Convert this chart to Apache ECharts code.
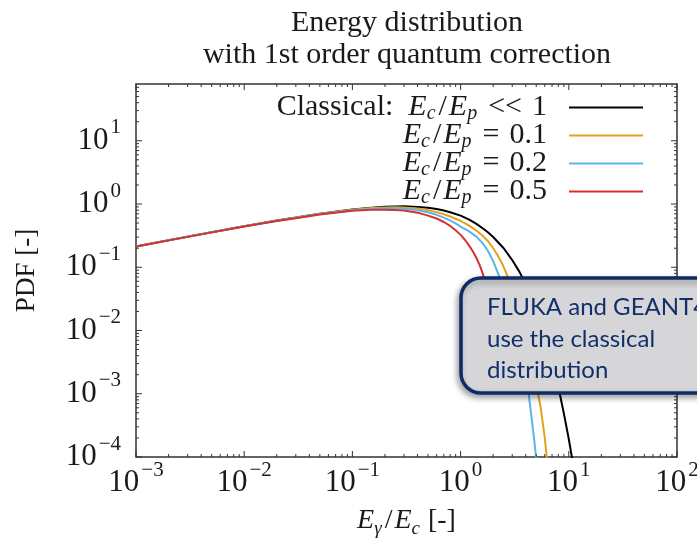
<!DOCTYPE html>
<html><head><meta charset="utf-8">
<script src="https://cdn.jsdelivr.net/npm/echarts@6/dist/echarts.min.js"></script>
<style>html,body{margin:0;padding:0;background:#fff}#c{width:697px;height:541px}</style>
</head><body><div id="c"></div>
<script>
// ---- tick labels (exponents of 10) ----
const xTickExps = [-3, -2, -1, 0, 1, 2];
const yTickExps = [-4, -3, -2, -1, 0, 1];
const X_MIN = 1e-3, X_MAX = 1e2, Y_MIN = 1e-4, Y_MAX = 79;

// ---- series names ----
const seriesNames = ['classical', 'q01', 'q02', 'q05'];
const legendTexts = [
  '{r|Classical:  }{i|E}{s|c}{o|/}{i|E}{s|p}{q|<<}{z|1}',
  '{i|E}{s|c}{o|/}{i|E}{s|p}{q|=}{z|0.1}',
  '{i|E}{s|c}{o|/}{i|E}{s|p}{q|=}{z|0.2}',
  '{i|E}{s|c}{o|/}{i|E}{s|p}{q|=}{z|0.5}'
];
const seriesColors = ['#000000', '#e5a11d', '#5bb5e6', '#d63131'];

// ---- data ----
const xClassical = [0.001,0.002,0.005,0.01,0.02,0.03,0.05,0.1,0.15,0.2,0.25,0.3,0.4,0.5,0.6,0.7,0.8,0.9,1,1.2,1.4,1.6,1.8,2,2.5,3,3.5,4,4.5,5,6,7,8,9,10,11];
const yClassical = [0.213,0.267,0.358,0.445,0.547,0.61,0.702,0.818,0.874,0.904,0.917,0.918,0.901,0.872,0.832,0.788,0.742,0.694,0.655,0.566,0.486,0.414,0.354,0.301,0.2,0.13,0.0845,0.0541,0.0339,0.0214,0.0085,0.0033,0.00129,0.00049,0.000192,0.000074];

const xQ01 = [0.001,0.002,0.005,0.01,0.02,0.03,0.05,0.1,0.15,0.2,0.25,0.3,0.4,0.5,0.6,0.7,0.8,0.9,1,1.2,1.4,1.6,1.8,2,2.2,2.4,2.6,2.8,3,3.5,4,4.5,5,5.5,6,6.25,6.5];
const yQ01 = [0.213,0.267,0.358,0.445,0.546,0.608,0.698,0.81,0.862,0.88,0.885,0.88,0.85,0.80,0.745,0.69,0.635,0.585,0.54,0.455,0.38,0.315,0.255,0.2,0.155,0.118,0.087,0.062,0.044,0.019,0.0079,0.0032,0.0014,0.0006,0.0002,0.0001,0.00003];

const xQ02 = [0.001,0.002,0.005,0.01,0.02,0.03,0.05,0.1,0.15,0.2,0.25,0.3,0.4,0.5,0.6,0.7,0.8,0.9,1,1.2,1.4,1.6,1.8,2,2.2,2.4,2.6,3,3.5,4,4.25,4.5,4.8,4.98,5.0];
const yQ02 = [0.213,0.267,0.357,0.444,0.545,0.606,0.695,0.80,0.845,0.86,0.86,0.85,0.80,0.74,0.675,0.61,0.55,0.495,0.44,0.37,0.305,0.24,0.178,0.125,0.083,0.055,0.037,0.016,0.0053,0.0018,0.00102,0.00046,0.00018,0.0001,0.000001];

const xQ05 = [0.001,0.002,0.005,0.01,0.02,0.03,0.05,0.1,0.15,0.2,0.25,0.3,0.4,0.5,0.6,0.7,0.8,0.9,1,1.1,1.2,1.3,1.4,1.5,1.6,1.7,1.8,1.9,1.97];
const yQ05 = [0.213,0.266,0.356,0.442,0.54,0.598,0.685,0.78,0.81,0.815,0.805,0.79,0.73,0.655,0.59,0.52,0.45,0.385,0.325,0.27,0.22,0.178,0.14,0.108,0.08,0.056,0.035,0.017,0.004];

const allX = [xClassical, xQ01, xQ02, xQ05];
const allY = [yClassical, yQ01, yQ02, yQ05];

const SERIF = "'Liberation Serif', 'DejaVu Serif', serif";
const TXT = '#1a1a1a';

function sup(v) {
  const e = Math.log10(v);
  const r = Math.round(e);
  if (Math.abs(e - r) > 1e-6) return '';
  return '{b|10}{s|' + String(r).replace('-', '\u2212') + '}';
}
const axisRich = {
  b: { fontFamily: SERIF, fontSize: 31, lineHeight: 34, color: TXT },
  s: { fontFamily: SERIF, fontSize: 21, lineHeight: 8, padding: [0, 0, 26, 2], color: TXT }
};
const LH = 26;
const mathRich = {
  r: { fontFamily: SERIF, fontSize: 30, lineHeight: LH, color: TXT },
  o: { fontFamily: SERIF, fontSize: 30, lineHeight: LH, color: TXT, padding: [0, 2, 0, 2] },
  q: { fontFamily: SERIF, fontSize: 30, lineHeight: LH, color: TXT, padding: [0, 10, 0, 10] },
  z: { fontFamily: SERIF, fontSize: 30, lineHeight: LH, color: TXT, padding: [0, 17, 0, 0] },
  i: { fontFamily: SERIF, fontSize: 30, lineHeight: LH, fontStyle: 'italic', color: TXT },
  s: { fontFamily: SERIF, fontSize: 20, lineHeight: 13, fontStyle: 'italic', padding: [13, 1, 0, 0], color: TXT }
};
const nameRich = {
  r: { fontFamily: SERIF, fontSize: 28, lineHeight: 30, color: TXT },
  o: { fontFamily: SERIF, fontSize: 28, lineHeight: 30, color: TXT, padding: [0, 2, 0, 2] },
  i: { fontFamily: SERIF, fontSize: 28, lineHeight: 30, fontStyle: 'italic', color: TXT },
  s: { fontFamily: SERIF, fontSize: 19, lineHeight: 15, fontStyle: 'italic', padding: [15, 1, 0, 0], color: TXT }
};

// tick list built from tick exponents
const tickData = [];
xTickExps.forEach(e => tickData.push([Math.pow(10, e), Y_MIN, 0, 6]));
for (let e = xTickExps[0]; e < xTickExps[xTickExps.length - 1]; e++)
  for (let k = 2; k <= 9; k++) tickData.push([k * Math.pow(10, e), Y_MIN, 0, 3]);
yTickExps.forEach(e => tickData.push([X_MIN, Math.pow(10, e), 1, 6]));
for (let e = yTickExps[0]; e <= yTickExps[yTickExps.length - 1]; e++)
  for (let k = 2; k <= 9; k++) { const v = k * Math.pow(10, e); if (v < Y_MAX) tickData.push([X_MIN, v, 1, 3]); }

const series = seriesNames.map((n, si) => ({
  name: n, type: 'line', showSymbol: false, symbol: 'none',
  smooth: false,
  color: seriesColors[si],
  lineStyle: { width: 2, color: seriesColors[si] },
  data: allX[si].map((x, i) => [x, allY[si][i]]),
  z: 2 + si
}));
series.push({
  type: 'custom', silent: true, z: 10,
  encode: { x: 0, y: 1 },
  data: tickData,
  renderItem: function (params, api) {
    const t = api.value(2), L = api.value(3);
    const st = { stroke: '#333', lineWidth: 1 };
    if (t === 0) {
      const v = api.value(0);
      const b = api.coord([v, Y_MIN]), tp = api.coord([v, Y_MAX]);
      return { type: 'group', children: [
        { type: 'line', shape: { x1: b[0], y1: b[1], x2: b[0], y2: b[1] - L }, style: st },
        { type: 'line', shape: { x1: tp[0], y1: tp[1], x2: tp[0], y2: tp[1] + L }, style: st }
      ]};
    } else {
      const v = api.value(1);
      const l = api.coord([X_MIN, v]), r = api.coord([X_MAX, v]);
      return { type: 'group', children: [
        { type: 'line', shape: { x1: l[0], y1: l[1], x2: l[0] + L, y2: l[1] }, style: st },
        { type: 'line', shape: { x1: r[0], y1: r[1], x2: r[0] - L, y2: r[1] }, style: st }
      ]};
    }
  }
});

const chart = echarts.init(document.getElementById('c'), null, { renderer: 'canvas' });
chart.setOption({
  animation: false,
  backgroundColor: '#ffffff',
  title: {
    text: 'Energy distribution\nwith 1st order quantum correction',
    left: 407, top: 7, padding: 0, textAlign: 'center',
    textStyle: { fontFamily: SERIF, fontSize: 30, fontWeight: 'normal', color: TXT, lineHeight: 32 }
  },
  grid: {
    left: 136, right: 20, top: 84, bottom: 84,
    containLabel: false, outerBoundsMode: 'none',
    show: true, borderColor: '#333', borderWidth: 1.5, backgroundColor: 'transparent'
  },
  legend: {
    data: seriesNames,
    orient: 'vertical', align: 'right',
    right: 54, top: 91, padding: 0, itemGap: -5,
    itemWidth: 74, itemHeight: 2, icon: 'rect',
    formatter: function (n) { return legendTexts[seriesNames.indexOf(n)]; },
    textStyle: { rich: mathRich },
    selectedMode: false
  },
  xAxis: {
    type: 'log', logBase: 10, min: X_MIN, max: X_MAX,
    axisLine: { show: false }, axisTick: { show: false }, splitLine: { show: false },
    axisLabel: { margin: 9, formatter: sup, rich: axisRich },
    name: '{i|E}{s|\u03b3}{o|/}{i|E}{s|c}{r| [-]}',
    nameLocation: 'middle', nameGap: 49, nameMoveOverlap: false,
    nameTextStyle: { rich: nameRich }
  },
  yAxis: {
    type: 'log', logBase: 10, min: Y_MIN, max: Y_MAX,
    axisLine: { show: false }, axisTick: { show: false }, splitLine: { show: false },
    axisLabel: { margin: 15, formatter: sup, rich: axisRich },
    name: 'PDF [-]', nameLocation: 'middle', nameGap: 96, nameMoveOverlap: false,
    nameTextStyle: { fontFamily: SERIF, fontSize: 27, color: TXT }
  },
  series: series,
  graphic: [
    { type: 'rect', z: 100, zlevel: 1, shape: { x: 461, y: 278, width: 270, height: 115, r: 20 },
      style: { fill: '#d6d6d8', stroke: '#0d2b67', lineWidth: 3.5,
               shadowBlur: 6, shadowOffsetX: -2, shadowOffsetY: 3, shadowColor: 'rgba(0,0,0,0.35)' } },
    { type: 'text', z: 101, zlevel: 1, x: 487, y: 292,
      style: { text: 'FLUKA and GEANT4\nuse the classical\ndistribution', fontFamily: 'Lato', fontSize: 24,
               fill: '#10306b', lineHeight: 31.5 } }
  ]
});
</script></body></html>
